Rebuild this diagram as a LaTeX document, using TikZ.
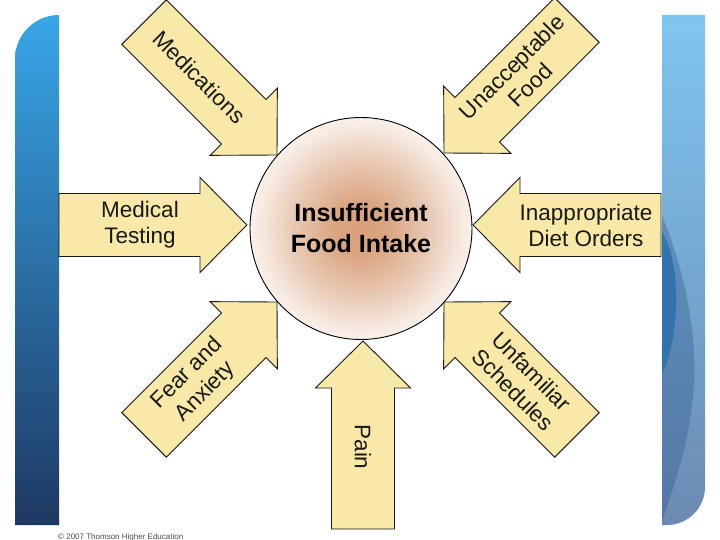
\documentclass[tikz,border=0pt]{standalone}
\usepackage{fontspec}
\setmainfont{Liberation Sans}
\definecolor{arrowfill}{RGB}{248,233,168}
\definecolor{glowc}{RGB}{216,160,122}
\definecolor{lefttop}{RGB}{56,166,232}
\definecolor{leftmid}{RGB}{40,122,182}
\definecolor{leftbot}{RGB}{30,56,98}
\definecolor{righttop}{RGB}{126,198,240}
\definecolor{rightbot}{RGB}{108,138,178}
\definecolor{wavedark}{RGB}{40,112,172}
\definecolor{waveshade}{RGB}{45,85,140}
\pgfdeclareradialshading{foodglow}{\pgfpoint{0bp}{0bp}}{color(0bp)=(glowc); color(6bp)=(glowc!95!white); color(15bp)=(glowc!58!white); color(23bp)=(glowc!22!white); color(30bp)=(white); color(50bp)=(white)}
\tikzset{
  arrowbox/.style={fill=arrowfill, draw=black!90, line width=0.9pt, line join=miter},
  arrowlabel/.style={font=\fontsize{22.5}{26}\selectfont, align=center, text=black!90, inner sep=0pt},
  hubnode/.style={circle, draw=black, line width=0.9pt, minimum size=222pt, inner sep=0pt, shade, shading=foodglow, align=center, font=\fontsize{25}{31}\selectfont\bfseries},
  copynote/.style={anchor=base west, font=\fontsize{8}{9}\selectfont, text=black!70, inner sep=0pt}
}
\newcommand{\blockarrow}[7]{%
  \begin{scope}[shift={(#2,#3)}, rotate=#4]
    \draw[arrowbox] (0,0) -- (-47,47.5) -- (-47,31.5) -- (-188,31.5) -- (-188,-31.5) -- (-47,-31.5) -- (-47,-47.5) -- cycle;
    \node[arrowlabel, rotate=#5] (#1) at (-#6,0) {#7};
  \end{scope}}
\begin{document}
\begin{tikzpicture}[x=1pt, y=-1pt]
\useasboundingbox (0,0) rectangle (720,540);
\fill[white] (0,0) rectangle (720,540);
% left panel
\shade[top color=lefttop, middle color=leftmid, bottom color=leftbot]
  (15,525) -- (15,59) .. controls (15,34.7) and (34.7,15) .. (59,15) -- (59,525) -- cycle;
% right panel
\shade[top color=righttop, bottom color=rightbot]
  (662,15) -- (705,15) -- (705,487) .. controls (705,508) and (688,525) .. (667,525) -- (662,525) -- cycle;
\begin{scope}
  \clip (662,15) -- (705,15) -- (705,487) .. controls (705,508) and (688,525) .. (667,525) -- (662,525) -- cycle;
  \fill[waveshade, opacity=0.35] (662,215) .. controls (680,260) and (700,330) .. (693,395) .. controls (688,450) and (672,490) .. (662,522) -- cycle;
  \fill[wavedark, opacity=0.8] (662,232) .. controls (680,260) and (682,330) .. (662,375) -- cycle;
\end{scope}
% arrows
\blockarrow{medications}{277}{155}{-45}{-45}{110}{Medications}
\blockarrow{unacceptable}{444}{153}{-135}{45}{109}{Unacceptable\\Food}
\blockarrow{testing}{247}{225}{0}{0}{107}{Medical\\Testing}
\blockarrow{diet}{473}{225}{180}{0}{113}{Inappropriate\\Diet Orders}
\blockarrow{fear}{277}{302}{45}{45}{114}{Fear and\\Anxiety}
\blockarrow{schedules}{444}{302}{135}{-45}{111}{Unfamiliar\\Schedules}
\blockarrow{pain}{363}{341}{90}{-90}{106}{Pain}
% hub
\node[hubnode] (hub) at (361,228.5) {Insufficient\\Food Intake};
% copyright
\node[copynote] (copy) at (58,539) {© 2007 Thomson Higher Education};
\end{tikzpicture}
\end{document}
